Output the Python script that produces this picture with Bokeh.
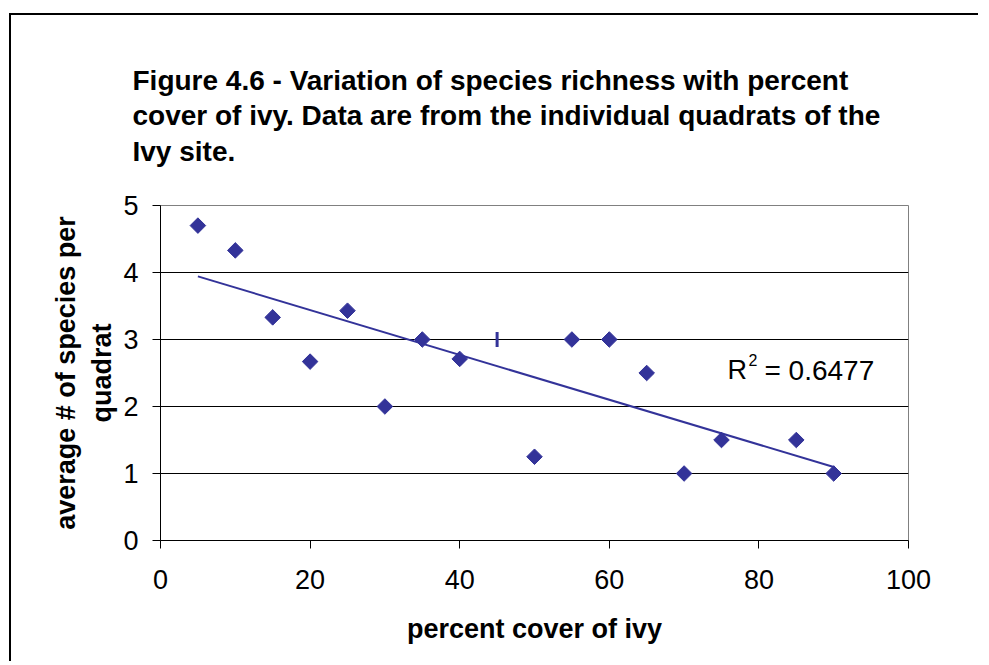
import numpy as np
from bokeh.plotting import figure
from bokeh.models import Range1d, FixedTicker, Label, Title
from bokeh.embed import file_html
from bokeh.resources import INLINE

# data
cover = [5, 10, 15, 20, 25, 30, 35, 40, 50, 55, 60, 65, 70, 75, 85, 90]
richness = [4.7, 4.33, 3.33, 2.67, 3.43, 2.0, 3.0, 2.71, 1.25, 3.0, 3.0, 2.5, 1.0, 1.5, 1.5, 1.0]
odd_cover = [45]
odd_richness = [3.0]
x_ticks = [0, 20, 40, 60, 80, 100]
y_ticks = [0, 1, 2, 3, 4, 5]
r2_value = "0.6477"

FONT = "Liberation Sans"
NAVY = "#333399"

p = figure(frame_width=748, frame_height=335,
           min_border_left=149, min_border_top=190, min_border_right=72, min_border_bottom=123,
           x_range=Range1d(0, 100), y_range=Range1d(0, 5),
           output_backend="svg", toolbar_location=None, tools="")
# outer chart-area frame: only its top and left edges fall inside the window
p.styles = {"box-shadow": "-2px -2px 0 0 black",
            "margin-top": "15px", "margin-left": "11px"}

p.title = Title(text="Figure 4.6 - Variation of species richness with percent\n"
                     "cover of ivy. Data are from the individual quadrats of the\n"
                     "Ivy site.",
                text_font=FONT, text_font_size="28px", text_font_style="bold",
                text_color="black", align="left", offset=-28, standoff=77,
                text_line_height=1.15)

p.background_fill_color = "white"
p.border_fill_color = "white"
p.outline_line_color = "#808080"
p.outline_line_width = 1

p.xgrid.visible = False
p.ygrid.grid_line_color = "black"
p.ygrid.grid_line_width = 1
p.ygrid.ticker = FixedTicker(ticks=y_ticks)

for ax in (p.xaxis[0], p.yaxis[0]):
    ax.axis_line_color = "black"
    ax.axis_line_width = 1
    ax.major_tick_line_color = "black"
    ax.major_tick_out = 8
    ax.major_tick_in = 0
    ax.minor_tick_line_color = None
    ax.major_label_text_font = FONT
    ax.major_label_text_font_size = "27px"
    ax.major_label_text_color = "black"
    ax.axis_label_text_font = FONT
    ax.axis_label_text_font_size = "27px"
    ax.axis_label_text_font_style = "bold"
    ax.axis_label_text_color = "black"

p.xaxis.ticker = FixedTicker(ticks=x_ticks)
p.yaxis.ticker = FixedTicker(ticks=y_ticks)
p.xaxis.major_label_standoff = 21
p.yaxis.major_label_standoff = 14
p.xaxis.axis_label = "percent cover of ivy"
p.yaxis.axis_label = "average # of species per\nquadrat"
p.xaxis.axis_label_standoff = 22
p.yaxis.axis_label_standoff = 3
p.yaxis.axis_label_text_line_height = 1.2

# linear trendline over all points
all_x = np.array(cover + odd_cover, dtype=float)
all_y = np.array(richness + odd_richness, dtype=float)
slope, intercept = np.polyfit(all_x, all_y, 1)
tx = np.array([all_x.min(), all_x.max()])
p.line(tx, slope * tx + intercept, line_color=NAVY, line_width=2)

p.scatter(cover, richness, marker="square", size=11, angle=np.pi / 4,
          fill_color=NAVY, line_color=NAVY)
p.scatter(odd_cover, odd_richness, marker="dash", size=15, angle=np.pi / 2,
          line_color=NAVY, line_width=3)

# R^2 annotation: "R", superscript "2", "= value"
lx, ly = 75.8, 2.54
p.add_layout(Label(x=lx, y=ly, text="R", text_font=FONT, text_font_size="27px",
                   text_color="black", text_baseline="alphabetic"))
p.add_layout(Label(x=lx, y=ly, x_offset=21, y_offset=10, text="2", text_font=FONT,
                   text_font_size="16px", text_color="black", text_baseline="alphabetic"))
p.add_layout(Label(x=lx, y=ly, x_offset=37, text="= " + r2_value, text_font=FONT,
                   text_font_size="28px", text_color="black", text_baseline="alphabetic"))

open("out.html", "w").write(file_html(p, INLINE))
